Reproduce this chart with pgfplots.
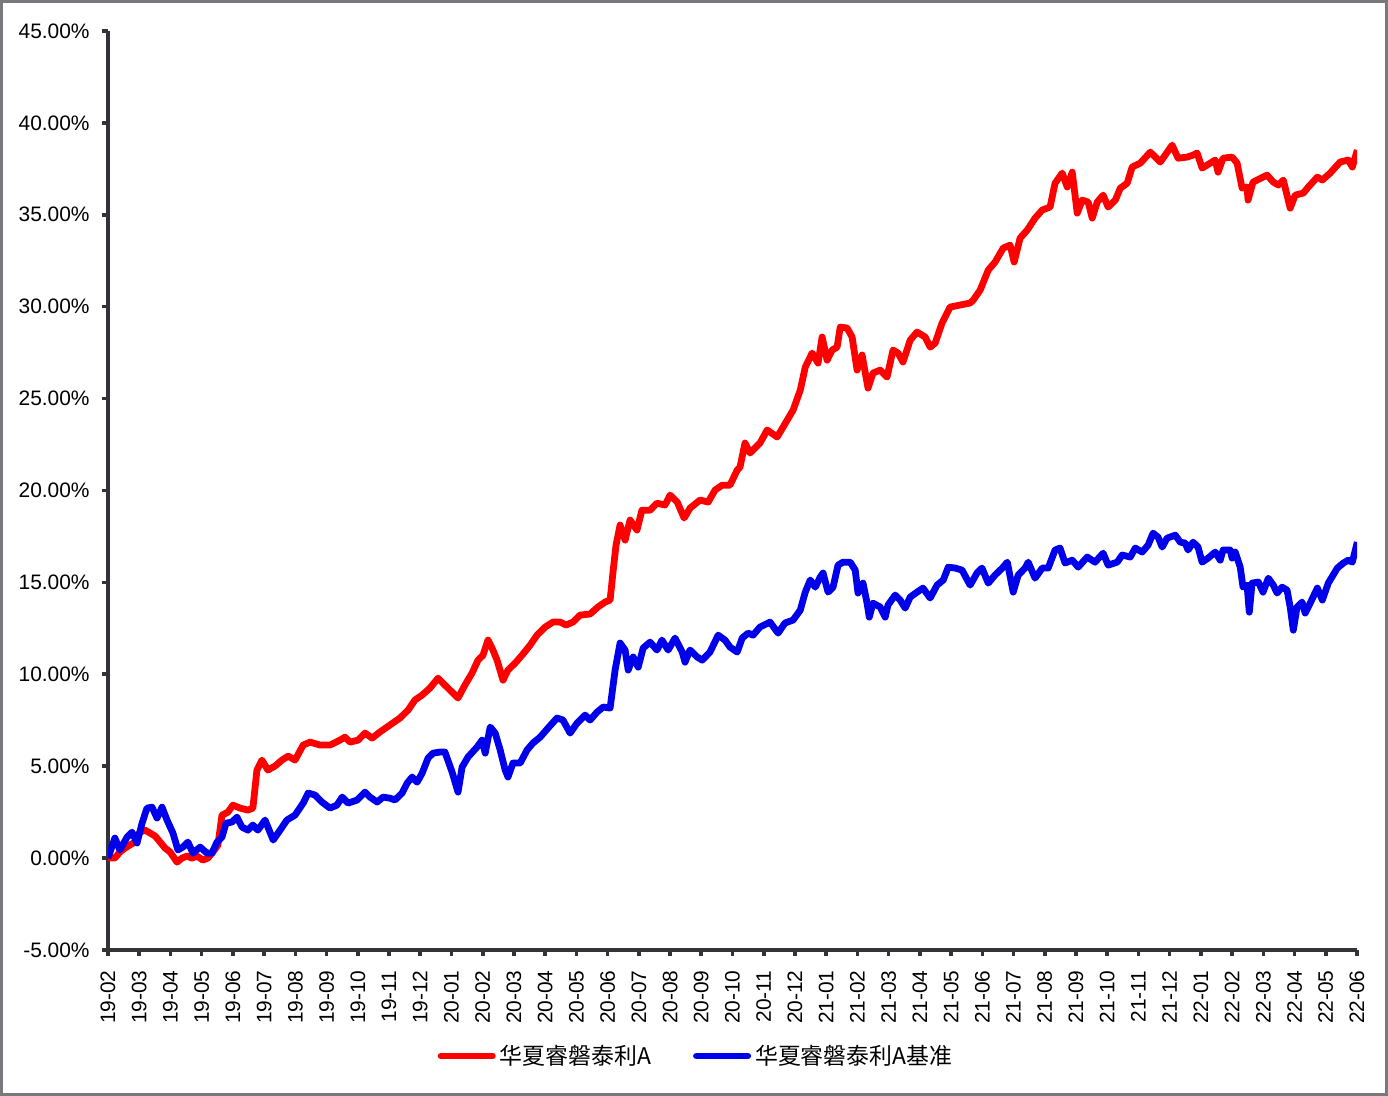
\documentclass[border=0pt]{standalone}
\usepackage{fontspec}
\setmainfont{Liberation Sans}
\newfontfamily\cjk{Noto Sans CJK SC}
\usepackage{pgfplots}
\pgfplotsset{compat=1.18}
\definecolor{axgray}{RGB}{50,50,55}
\definecolor{redline}{RGB}{255,0,0}
\definecolor{blueline}{RGB}{0,0,235}
\begin{document}
\begin{tikzpicture}
\useasboundingbox (0,0) rectangle (694bp,548bp);
\draw[draw={rgb,255:red,120;green,120;blue,125}, line width=1.5bp] (0.75bp,0.75bp) rectangle (693.25bp,547.25bp);
\begin{axis}[
  at={(54bp,73bp)}, anchor=south west,
  scale only axis, width=624.5bp, height=459.5bp,
  xmin=0, xmax=40, ymin=-5, ymax=45,
  axis x line*=bottom, axis y line*=left,
  axis line style={axgray, line width=1.8bp},
  every tick/.style={axgray, line width=1.8bp},
  tick align=outside, major tick length=3bp,
  xtick={0,...,40},
  xticklabels={19-02,19-03,19-04,19-05,19-06,19-07,19-08,19-09,19-10,19-11,19-12,20-01,20-02,20-03,20-04,20-05,20-06,20-07,20-08,20-09,20-10,20-11,20-12,21-01,21-02,21-03,21-04,21-05,21-06,21-07,21-08,21-09,21-10,21-11,21-12,22-01,22-02,22-03,22-04,22-05,22-06},
  x tick label style={rotate=90, anchor=east, font=\fontsize{10.5}{12}\selectfont, inner sep=0pt, xshift=0bp},
  xticklabel shift=7bp,
  ytick={-5,0,...,45},
  yticklabel={\pgfmathprintnumber[fixed,fixed zerofill,precision=2]{\tick}\%},
  y tick label style={font=\fontsize{10.5}{12}\selectfont, inner sep=0pt},
  yticklabel shift=6bp,
  /pgf/number format/assume math mode=true,
  legend style={at={(0.4716,-0.1153)}, anchor=center, draw=none, fill=none,
    font=\fontsize{11.5}{13}\selectfont, legend columns=2,
    /tikz/every even column/.append style={column sep=19bp}},
  legend image code/.code={\draw[#1, line width=3bp, line cap=round] (0bp,0bp) -- (26bp,0bp);},
  line join=round,
]
\addplot[redline, line width=3.4bp, mark=none] coordinates {
(0.00,0.00)(0.22,0.00)(0.38,0.33)(0.54,0.54)(0.70,0.71)(0.86,0.87)(1.02,1.41)(1.19,1.52)(1.35,1.36)(1.51,1.20)(1.67,0.87)(1.83,0.54)(1.99,0.33)(2.21,-0.22)(2.37,0.00)(2.53,0.11)(2.69,0.00)(2.85,0.11)(3.04,-0.11)(3.20,0.00)(3.36,0.33)(3.52,0.71)(3.65,2.34)(3.84,2.50)(4.00,2.88)(4.23,2.72)(4.48,2.61)(4.64,2.72)(4.77,4.79)(4.93,5.33)(5.12,4.79)(5.35,5.01)(5.57,5.33)(5.77,5.55)(5.99,5.33)(6.25,6.15)(6.47,6.31)(6.79,6.15)(7.11,6.15)(7.43,6.42)(7.59,6.58)(7.75,6.31)(8.01,6.42)(8.23,6.80)(8.46,6.53)(8.71,6.86)(9.03,7.24)(9.35,7.62)(9.61,8.05)(9.83,8.60)(10.06,8.87)(10.31,9.25)(10.57,9.79)(10.79,9.41)(11.02,9.03)(11.21,8.71)(11.43,9.41)(11.66,10.07)(11.85,10.77)(12.01,11.04)(12.17,11.86)(12.30,11.43)(12.46,10.77)(12.65,9.68)(12.81,10.23)(13.04,10.61)(13.26,11.04)(13.52,11.59)(13.74,12.13)(14.00,12.57)(14.25,12.84)(14.48,12.84)(14.67,12.68)(14.89,12.84)(15.12,13.22)(15.44,13.28)(15.69,13.66)(15.92,13.93)(16.08,14.04)(16.18,15.67)(16.27,17.03)(16.40,18.12)(16.56,17.30)(16.72,18.39)(16.94,17.85)(17.10,18.93)(17.36,18.93)(17.58,19.31)(17.84,19.21)(18.00,19.75)(18.23,19.37)(18.45,18.50)(18.64,19.04)(18.96,19.48)(19.22,19.37)(19.44,20.02)(19.67,20.29)(19.92,20.29)(20.15,21.11)(20.24,21.27)(20.40,22.58)(20.56,22.04)(20.88,22.58)(21.11,23.29)(21.43,22.91)(21.62,23.45)(21.94,24.37)(22.17,25.46)(22.33,26.71)(22.55,27.48)(22.74,26.93)(22.87,28.35)(23.03,27.09)(23.19,27.64)(23.35,27.80)(23.45,28.89)(23.67,28.84)(23.83,28.35)(23.99,26.55)(24.15,27.37)(24.34,25.57)(24.50,26.39)(24.73,26.55)(24.95,26.17)(25.14,27.64)(25.30,27.48)(25.46,26.99)(25.69,28.18)(25.91,28.62)(26.17,28.35)(26.33,27.80)(26.49,28.02)(26.71,29.11)(26.97,29.98)(27.29,30.09)(27.61,30.20)(27.71,30.36)(27.93,30.90)(28.19,31.99)(28.41,32.43)(28.67,33.19)(28.89,33.35)(29.02,32.43)(29.21,33.73)(29.44,34.17)(29.69,34.82)(29.92,35.26)(30.17,35.42)(30.33,36.72)(30.56,37.27)(30.72,36.51)(30.88,37.32)(31.04,35.09)(31.20,35.80)(31.39,35.69)(31.52,34.82)(31.68,35.69)(31.87,36.07)(32.03,35.42)(32.26,35.80)(32.42,36.45)(32.64,36.72)(32.80,37.60)(33.06,37.81)(33.38,38.41)(33.70,37.87)(34.08,38.79)(34.27,38.08)(34.56,38.14)(34.75,38.25)(34.88,38.36)(35.04,37.54)(35.30,37.81)(35.46,37.98)(35.55,37.32)(35.71,38.08)(36.00,38.14)(36.16,37.81)(36.32,36.45)(36.48,36.51)(36.51,35.80)(36.67,36.78)(37.12,37.16)(37.32,36.78)(37.48,36.62)(37.64,36.89)(37.86,35.36)(38.02,36.07)(38.28,36.18)(38.44,36.51)(38.73,37.05)(38.89,36.89)(39.14,37.27)(39.46,37.87)(39.72,37.98)(39.85,37.60)(40.01,38.52)
};
\addlegendentry{\cjk 华夏睿磐泰利A}
\addplot[blueline, line width=3.4bp, mark=none] coordinates {
(0.00,0.00)(0.22,1.09)(0.38,0.44)(0.61,1.14)(0.77,1.41)(0.93,0.82)(1.09,1.90)(1.25,2.72)(1.41,2.77)(1.57,2.18)(1.73,2.77)(1.89,2.07)(2.08,1.36)(2.24,0.44)(2.40,0.60)(2.56,0.87)(2.72,0.27)(2.95,0.60)(3.17,0.27)(3.33,0.27)(3.49,0.87)(3.65,1.14)(3.78,1.90)(3.97,1.96)(4.13,2.23)(4.29,1.69)(4.48,1.52)(4.64,1.80)(4.80,1.52)(5.03,2.07)(5.29,0.98)(5.51,1.52)(5.73,2.07)(5.99,2.34)(6.25,2.99)(6.41,3.54)(6.63,3.43)(6.85,3.05)(7.11,2.72)(7.33,2.88)(7.50,3.32)(7.69,2.99)(7.98,3.16)(8.23,3.59)(8.39,3.32)(8.62,3.05)(8.81,3.32)(9.03,3.26)(9.19,3.16)(9.42,3.54)(9.58,4.08)(9.74,4.41)(9.90,4.13)(10.06,4.62)(10.25,5.44)(10.41,5.71)(10.63,5.77)(10.79,5.77)(11.02,4.68)(11.21,3.59)(11.34,4.95)(11.53,5.50)(11.82,6.04)(11.98,6.42)(12.08,5.71)(12.24,7.13)(12.40,6.80)(12.56,5.88)(12.72,4.79)(12.81,4.41)(12.97,5.17)(13.20,5.17)(13.42,5.88)(13.61,6.26)(13.84,6.58)(14.09,7.07)(14.38,7.62)(14.57,7.51)(14.80,6.80)(15.02,7.34)(15.28,7.78)(15.44,7.51)(15.66,7.94)(15.86,8.22)(16.08,8.16)(16.24,10.23)(16.40,11.70)(16.56,11.32)(16.66,10.23)(16.82,10.94)(16.98,10.39)(17.14,11.43)(17.36,11.75)(17.58,11.32)(17.74,11.86)(17.94,11.32)(18.16,11.97)(18.39,11.21)(18.48,10.66)(18.64,11.32)(18.87,10.94)(19.03,10.77)(19.28,11.21)(19.54,12.13)(19.76,11.86)(19.92,11.48)(20.15,11.21)(20.31,11.97)(20.50,12.24)(20.66,12.13)(20.88,12.57)(21.20,12.84)(21.46,12.24)(21.68,12.79)(21.94,12.95)(22.17,13.49)(22.33,14.47)(22.49,15.13)(22.65,14.74)(22.81,15.29)(22.90,15.51)(23.06,14.47)(23.22,14.74)(23.38,15.94)(23.54,16.10)(23.77,16.10)(23.93,15.67)(24.02,14.42)(24.18,14.96)(24.31,13.87)(24.38,13.11)(24.50,13.87)(24.73,13.66)(24.89,13.11)(24.98,13.77)(25.21,14.31)(25.37,14.04)(25.53,13.60)(25.69,14.20)(25.91,14.47)(26.10,14.69)(26.33,14.15)(26.55,14.85)(26.75,15.13)(26.91,15.83)(27.13,15.78)(27.35,15.67)(27.61,14.85)(27.83,15.51)(27.99,15.78)(28.19,14.96)(28.41,15.40)(28.64,15.78)(28.80,16.10)(28.99,14.47)(29.15,15.40)(29.37,15.78)(29.47,16.10)(29.69,15.23)(29.92,15.78)(30.11,15.78)(30.33,16.76)(30.49,16.87)(30.65,16.05)(30.88,16.21)(31.07,15.83)(31.36,16.38)(31.61,16.10)(31.87,16.59)(32.03,15.94)(32.32,16.10)(32.48,16.49)(32.74,16.38)(32.90,16.87)(33.12,16.65)(33.31,17.03)(33.47,17.68)(33.63,17.46)(33.76,16.92)(33.92,17.41)(34.18,17.57)(34.34,17.19)(34.50,17.14)(34.59,16.76)(34.75,17.19)(34.91,16.92)(35.04,16.10)(35.23,16.32)(35.46,16.65)(35.62,16.21)(35.71,16.76)(35.94,16.76)(36.00,16.32)(36.10,16.65)(36.26,15.83)(36.35,14.74)(36.48,14.85)(36.55,13.38)(36.64,14.96)(36.84,15.02)(36.99,14.47)(37.16,15.23)(37.32,14.85)(37.44,14.42)(37.60,14.74)(37.76,14.58)(37.86,13.66)(37.96,12.40)(38.08,13.66)(38.24,13.93)(38.34,13.33)(38.50,13.87)(38.73,14.69)(38.89,14.04)(39.08,14.96)(39.37,15.78)(39.56,16.05)(39.72,16.21)(39.85,16.10)(40.01,17.19)
};
\addlegendentry{\cjk 华夏睿磐泰利A基准}
\end{axis}
\end{tikzpicture}
\end{document}
